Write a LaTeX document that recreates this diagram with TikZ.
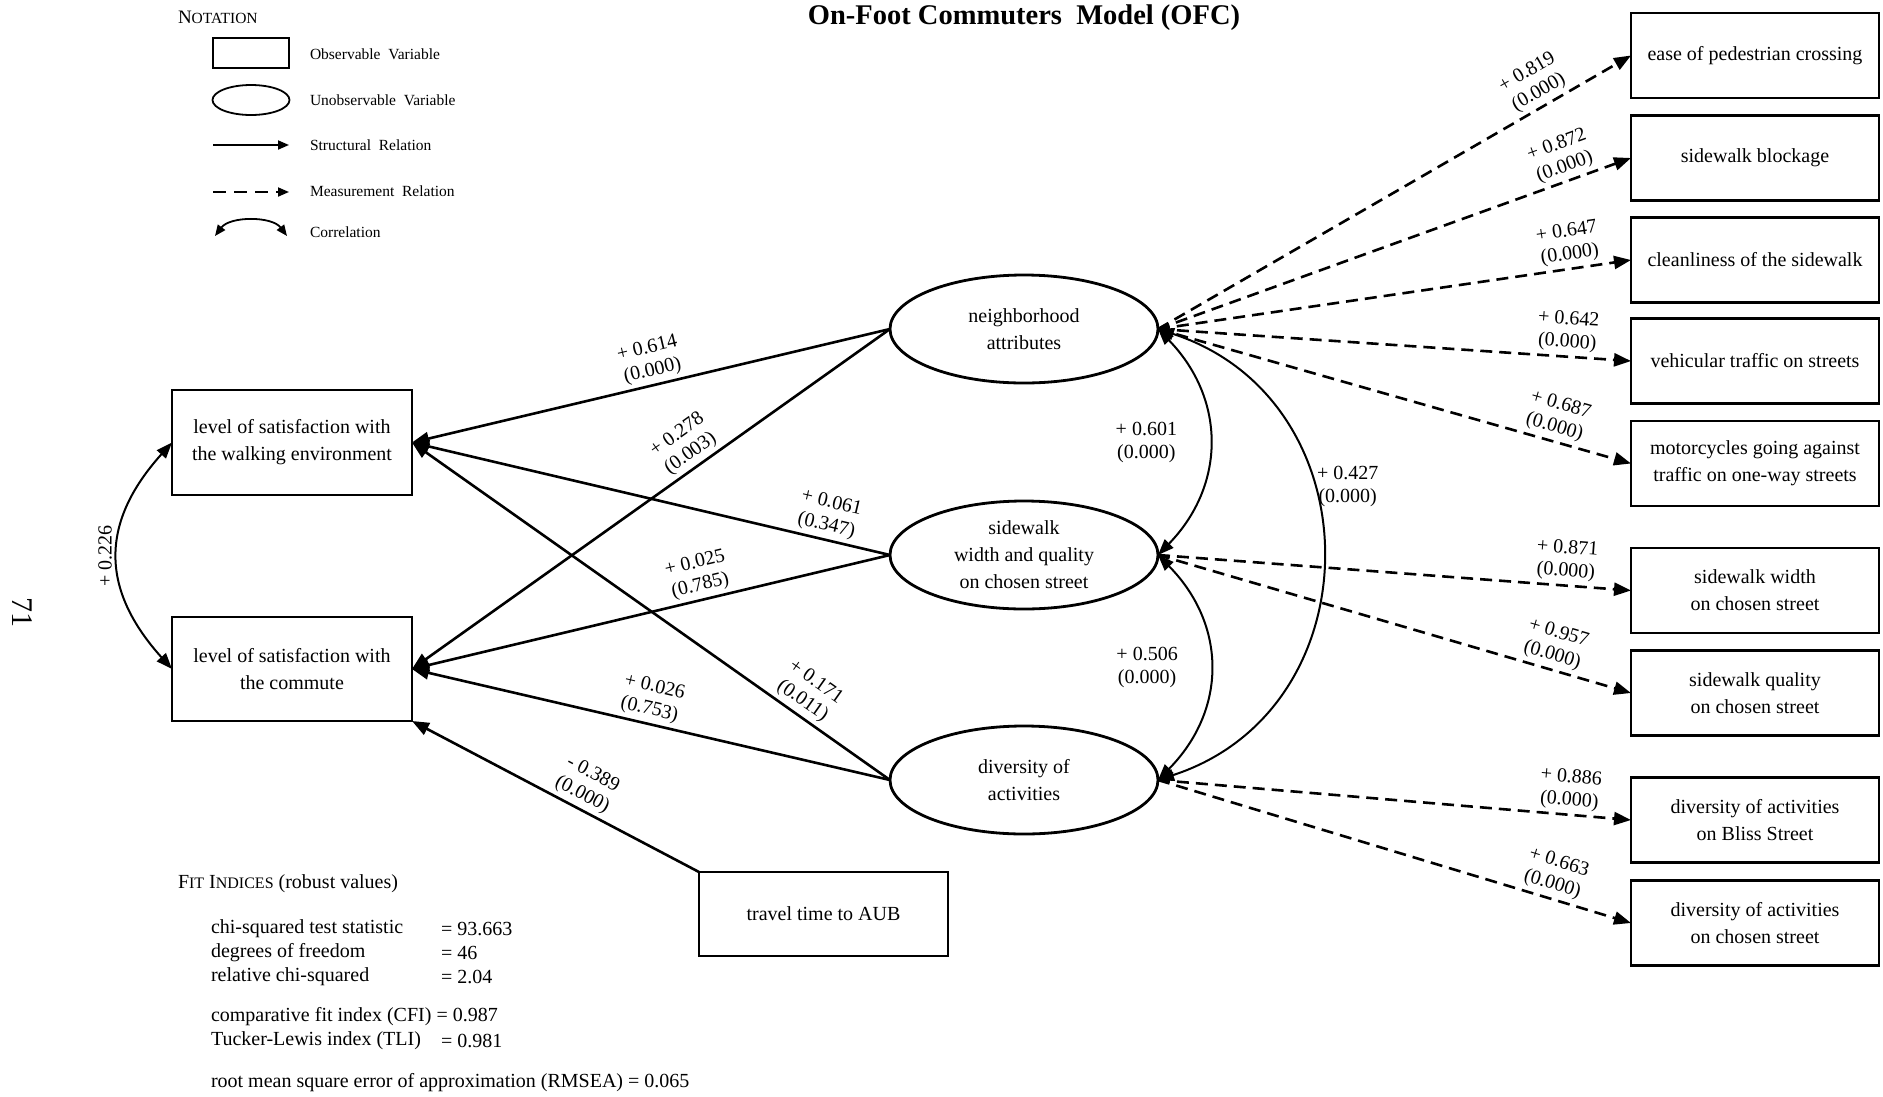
\documentclass[tikz,border=0pt]{standalone}
\usepackage{fontspec}
\setmainfont{Liberation Serif}
\usetikzlibrary{arrows.meta,shapes.geometric}

\begin{document}
\begin{tikzpicture}[x=1pt,y=-1pt,
  every node/.style={inner sep=0pt, outer sep=0pt},
  nodetext/.style={font=\fontsize{20}{27}\selectfont, align=center},
  obsbox/.style={nodetext, draw, rectangle, line width=2.8pt,
    minimum width=248pt, minimum height=85pt},
  latent/.style={nodetext, draw, ellipse, line width=2.8pt,
    minimum width=268pt, minimum height=108pt},
  bighead/.style={-{Triangle[length=17pt,width=13pt]}},
  struct/.style={line width=2.6pt, bighead},
  meas/.style={struct, dash pattern=on 12pt off 7pt},
  corr/.style={line width=2pt,
    {Triangle[length=16pt,width=12pt]}-{Triangle[length=16pt,width=12pt]}},
  lab/.style={font=\fontsize{20}{23}\selectfont, align=center, sloped, above=5pt},
  clab/.style={font=\fontsize{20}{23}\selectfont, align=center},
  legtext/.style={font=\fontsize{15.5}{18}\selectfont, anchor=west},
  legline/.style={line width=1.8pt},
  leghead/.style={-{Triangle[length=11pt,width=9pt]}},
  fit/.style={font=\fontsize{20}{24}\selectfont, anchor=west},
]
\useasboundingbox (0,0) rectangle (1883,1096);

% title and page number
\node[font=\bfseries\fontsize{28.5}{32}\selectfont] (title) at (1024,18)
  {On-Foot Commuters\ \ Model (OFC)};
\node[rotate=-90, font=\fontsize{30}{34}\selectfont] (pagenum) at (22,612) {71};

% notation key
\node[anchor=west] (notation) at (178,17)
  {{\fontsize{19}{22}\selectfont N}{\fontsize{15.5}{18}\selectfont OTATION}};
\node[draw, rectangle, legline, minimum width=76pt, minimum height=30pt] (legObs) at (251,53) {};
\node[draw, ellipse, legline, minimum width=77pt, minimum height=30pt] (legLat) at (251,100) {};
\coordinate (legSa) at (213,145);
\coordinate (legSb) at (289,145);
\coordinate (legMa) at (213,192);
\coordinate (legMb) at (289,192);
\coordinate (legCa) at (215,236);
\coordinate (legCb) at (287,236);
\draw[legline, leghead] (legSa) -- (legSb);
\draw[legline, leghead, dash pattern=on 13pt off 8pt] (legMa) -- (legMb);
\draw[legline, {Triangle[length=11pt,width=9pt]}-{Triangle[length=11pt,width=9pt]}]
  (legCa) .. controls +(15,-20) and +(-15,-20) .. (legCb);
\node[legtext] (legObsT) at (310,54) {Observable\ \ Variable};
\node[legtext] (legLatT) at (310,100) {Unobservable\ \ Variable};
\node[legtext] (legSt) at (310,145) {Structural\ \ Relation};
\node[legtext] (legMt) at (310,191) {Measurement\ \ Relation};
\node[legtext] (legCt) at (310,232) {Correlation};

% outcome variables
\node[obsbox, minimum width=240pt, minimum height=105pt] (walk) at (292,442.5)
  {level of satisfaction with\\the walking environment};
\node[obsbox, minimum width=240pt, minimum height=104pt] (commute) at (292,669)
  {level of satisfaction with\\the commute};
\node[obsbox, minimum width=249pt, minimum height=84pt] (travel) at (823.5,914)
  {travel time to AUB};

% latent constructs
\node[latent] (nbh) at (1024,329) {neighborhood\\attributes};
\node[latent] (swq) at (1024,555) {sidewalk\\width and quality\\on chosen street};
\node[latent] (div) at (1024,780) {diversity of\\activities};

% indicators
\node[obsbox] (m1) at (1755,55.5) {ease of pedestrian crossing};
\node[obsbox] (m2) at (1755,158) {sidewalk blockage};
\node[obsbox] (m3) at (1755,260) {cleanliness of the sidewalk};
\node[obsbox] (m4) at (1755,361) {vehicular traffic on streets};
\node[obsbox] (m5) at (1755,463.5) {motorcycles going against\\traffic on one-way streets};
\node[obsbox] (m6) at (1755,590.5) {sidewalk width\\on chosen street};
\node[obsbox] (m7) at (1755,693) {sidewalk quality\\on chosen street};
\node[obsbox] (m8) at (1755,820) {diversity of activities\\on Bliss Street};
\node[obsbox] (m9) at (1755,923) {diversity of activities\\on chosen street};

% structural relations
\draw[struct] (nbh.west) -- node[lab, pos=0.49] {+ 0.614\\(0.000)} (walk.east);
\draw[struct] (nbh.west) -- node[lab, pos=0.40] {+ 0.278\\(0.003)} (commute.east);
\draw[struct] (swq.west) -- node[lab, pos=0.14] {+ 0.061\\(0.347)} (walk.east);
\draw[struct] (swq.west) -- node[lab, pos=0.39] {+ 0.025\\(0.785)} (commute.east);
\draw[struct] (div.west) -- node[lab, pos=0.20] {+ 0.171\\(0.011)} (walk.east);
\draw[struct] (div.west) -- node[lab, pos=0.51] {+ 0.026\\(0.753)} (commute.east);
\draw[struct] (travel.north west) -- node[lab, pos=0.43] {- 0.389\\(0.000)} (commute.south east);

% measurement relations
\draw[meas] (nbh.east) -- node[lab, pos=0.82] {+ 0.819\\(0.000)} (m1.west);
\draw[meas] (nbh.east) -- node[lab, pos=0.87] {+ 0.872\\(0.000)} (m2.west);
\draw[meas] (nbh.east) -- node[lab, pos=0.875] {+ 0.647\\(0.000)} (m3.west);
\draw[meas] (nbh.east) -- node[lab, pos=0.863] {+ 0.642\\(0.000)} (m4.west);
\draw[meas] (nbh.east) -- node[lab, pos=0.83] {+ 0.687\\(0.000)} (m5.west);
\draw[meas] (swq.east) -- node[lab, pos=0.86] {+ 0.871\\(0.000)} (m6.west);
\draw[meas] (swq.east) -- node[lab, pos=0.825] {+ 0.957\\(0.000)} (m7.west);
\draw[meas] (div.east) -- node[lab, pos=0.867] {+ 0.886\\(0.000)} (m8.west);
\draw[meas] (div.east) -- node[lab, pos=0.825] {+ 0.663\\(0.000)} (m9.west);

% correlations
\draw[corr] (walk.west) .. controls +(-72,80) and +(-72,-80) ..
  node[midway, rotate=90, anchor=south, outer sep=6pt, clab] {+ 0.226} (commute.west);
\draw[corr] (nbh.east) .. controls +(68,70) and +(68,-70) ..
  node[midway, left=32pt, clab] {+ 0.601\\(0.000)} (swq.east);
\draw[corr] (swq.east) .. controls +(69,70) and +(69,-70) ..
  node[midway, left=32pt, clab] {+ 0.506\\(0.000)} (div.east);
\draw[corr] (nbh.east) .. controls +(218,71) and +(218,-71) ..
  node[pos=0.38, right=5pt, clab] {+ 0.427\\(0.000)} (div.east);

% fit indices
\node[fit] (fitHead) at (178,884)
  {F{\fontsize{16}{20}\selectfont IT} I{\fontsize{16}{20}\selectfont NDICES} (robust values)};
\node[fit] (fitChi) at (211,929) {chi-squared test statistic};
\node[fit] (fitChiV) at (441,929) {= 93.663};
\node[fit] (fitDf) at (211,953) {degrees of freedom};
\node[fit] (fitDfV) at (441,953) {= 46};
\node[fit] (fitRel) at (211,977) {relative chi-squared};
\node[fit] (fitRelV) at (441,977) {= 2.04};
\node[fit] (fitCfi) at (211,1017) {comparative fit index (CFI) = 0.987};
\node[fit] (fitTli) at (211,1041) {Tucker-Lewis index (TLI)};
\node[fit] (fitTliV) at (441,1041) {= 0.981};
\node[fit] (fitRmsea) at (211,1083) {root mean square error of approximation (RMSEA) = 0.065};
\end{tikzpicture}
\end{document}
